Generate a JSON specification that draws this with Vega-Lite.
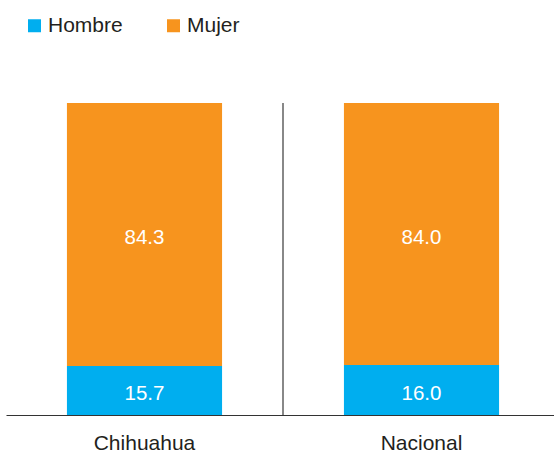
{
  "$schema": "https://vega.github.io/schema/vega-lite/v6.json",
  "width": 548,
  "height": 312,
  "autosize": {"type": "none"},
  "padding": {"left": 6, "top": 103, "right": 0, "bottom": 40},
  "background": "white",
  "config": {"view": {"stroke": null}, "font": "Liberation Sans"},
  "data": {"values": [
    {"region": "Chihuahua", "sexo": "Hombre", "valor": 15.7},
    {"region": "Chihuahua", "sexo": "Mujer", "valor": 84.3},
    {"region": "Nacional", "sexo": "Hombre", "valor": 16.0},
    {"region": "Nacional", "sexo": "Mujer", "valor": 84.0}
  ]},
  "layer": [
    {
      "mark": {"type": "bar"},
      "encoding": {
        "x": {"field": "region", "type": "nominal", "sort": ["Chihuahua", "Nacional"],
          "scale": {"range": [0, 554], "paddingInner": 0.44, "paddingOuter": 0.22},
          "axis": {"title": null, "ticks": false, "labelAngle": 0, "labelFontSize": 21, "labelColor": "#231F20", "labelPadding": 17, "domainColor": "#333333", "domainWidth": 1.2, "grid": false}},
        "y": {"field": "valor", "type": "quantitative", "stack": "zero", "scale": {"domain": [0, 100]}, "axis": null},
        "color": {"field": "sexo", "type": "nominal",
          "scale": {"domain": ["Hombre", "Mujer"], "range": ["#00AEEF", "#F7941E"]},
          "legend": {"title": null, "orient": "none", "legendX": 18, "legendY": -88, "direction": "horizontal",
            "symbolType": "square", "symbolSize": 169, "symbolStrokeWidth": 0, "symbolOpacity": 1,
            "labelFontSize": 21, "labelColor": "#231F20", "labelOffset": 3, "columnPadding": 40, "padding": 0}},
        "order": {"field": "sexo", "sort": "ascending"}
      }
    },
    {
      "transform": [
        {"stack": "valor", "groupby": ["region"], "sort": [{"field": "sexo", "order": "ascending"}], "as": ["y0", "y1"]},
        {"calculate": "(datum.y0 + datum.y1) / 2", "as": "ymid"}
      ],
      "mark": {"type": "text", "color": "white", "fontSize": 20.5, "baseline": "middle", "dy": 3.5},
      "encoding": {
        "x": {"field": "region", "type": "nominal", "sort": ["Chihuahua", "Nacional"]},
        "y": {"field": "ymid", "type": "quantitative"},
        "text": {"field": "valor", "type": "quantitative", "format": ".1f"}
      }
    },
    {
      "mark": {"type": "rule", "color": "#888888", "strokeWidth": 1.5, "xOffset": -61},
      "encoding": {
        "x": {"datum": "Nacional", "type": "nominal", "bandPosition": 0},
        "y": {"datum": 0, "type": "quantitative"},
        "y2": {"datum": 100}
      }
    }
  ]
}
